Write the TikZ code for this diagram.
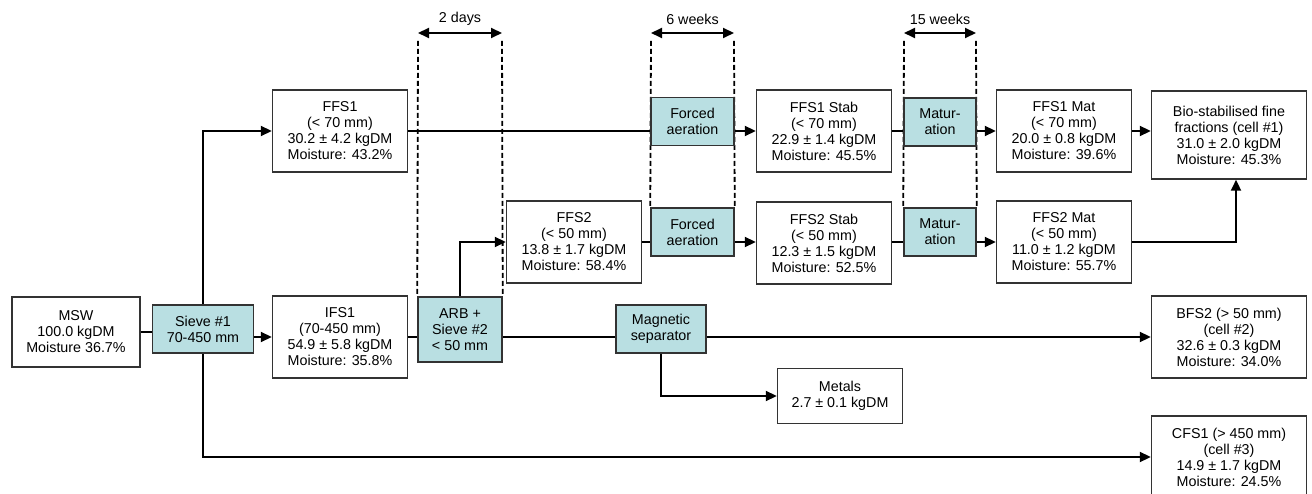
\documentclass[tikz,border=0pt]{standalone}
\usepackage{fontspec}
\setmainfont{Liberation Sans}
\usetikzlibrary{arrows.meta,backgrounds}

\definecolor{procteal}{HTML}{B9DFE2}
\definecolor{boxline}{HTML}{333333}

\begin{document}
\begin{tikzpicture}[
  x=1pt,
  y=-1pt,
  font=\fontsize{14.3}{16}\selectfont,
  stream/.style={draw=boxline,line width=1.5pt,fill=white,align=center,inner sep=0pt},
  sample/.style={stream,minimum width=135pt,minimum height=82pt},
  proc/.style={stream,fill=procteal,minimum height=48pt},
  flow/.style={draw=black,line width=2.2pt},
  feed/.style={flow,-{Triangle[length=11pt,width=10pt]}},
  period/.style={draw=black,line width=2pt,{Triangle[length=11pt,width=10pt]}-{Triangle[length=11pt,width=10pt]}},
  guide/.style={draw=black,line width=1.8pt,dash pattern=on 5pt off 3pt}
]
  \useasboundingbox (0,0) rectangle (1312,494);

  % Input and first sieve.
  \node[stream,minimum width=128pt,minimum height=70pt] (msw) at (76,332) {MSW\\100.0 kgDM\\Moisture 36.7\%};
  \node[proc,minimum width=101pt] (sieve1) at (203,329) {Sieve \#1\\70-450 mm};

  % Fractions after sieve #1.
  \node[sample] (ffs1) at (340,131) {FFS1\\(< 70 mm)\\30.2 ± 4.2 kgDM\\Moisture: 43.2\%};
  \node[sample] (ifs1) at (340,337) {IFS1\\(70-450 mm)\\54.9 ± 5.8 kgDM\\Moisture: 35.8\%};
  \node[proc,minimum width=84pt,minimum height=65pt] (arb) at (460,329.5) {ARB +\\Sieve \#2\\< 50 mm};
  \node[sample] (ffs2) at (574,242) {FFS2\\(< 50 mm)\\13.8 ± 1.7 kgDM\\Moisture: 58.4\%};

  % Composting steps.
  \node[proc,minimum width=83pt] (fa1) at (692.5,121.5) {Forced\\aeration};
  \node[proc,minimum width=83pt] (fa2) at (692.5,232) {Forced\\aeration};
  \node[sample] (stab1) at (824,131) {FFS1 Stab\\(< 70 mm)\\22.9 ± 1.4 kgDM\\Moisture: 45.5\%};
  \node[sample] (stab2) at (824,243) {FFS2 Stab\\(< 50 mm)\\12.3 ± 1.5 kgDM\\Moisture: 52.5\%};
  \node[proc,minimum width=72pt] (mat1) at (940,122) {Matur-\\ation};
  \node[proc,minimum width=72pt] (mat2) at (940,232) {Matur-\\ation};
  \node[sample] (fmat1) at (1064,131) {FFS1 Mat\\(< 70 mm)\\20.0 ± 0.8 kgDM\\Moisture: 39.6\%};
  \node[sample] (fmat2) at (1064,242) {FFS2 Mat\\(< 50 mm)\\11.0 ± 1.2 kgDM\\Moisture: 55.7\%};
  \node[stream,minimum width=155pt,minimum height=88pt] (bio) at (1229,135) {Bio-stabilised fine\\fractions (cell \#1)\\31.0 ± 2.0 kgDM\\Moisture: 45.3\%};

  % Coarse streams.
  \node[proc,minimum width=90pt] (mag) at (661,329) {Magnetic\\separator};
  \node[stream,minimum width=125pt,minimum height=55pt] (metals) at (840,396) {Metals\\2.7 ± 0.1 kgDM};
  \node[sample,minimum width=155pt] (bfs2) at (1229,337) {BFS2 (> 50 mm)\\(cell \#2)\\32.6 ± 0.3 kgDM\\Moisture: 34.0\%};
  \node[sample,minimum width=155pt] (cfs1) at (1229,457) {CFS1 (> 450 mm)\\(cell \#3)\\14.9 ± 1.7 kgDM\\Moisture: 24.5\%};

  % Durations.
  \coordinate (d2a) at (418,33);
  \coordinate (d2b) at (502,33);
  \coordinate (d6a) at (651,33);
  \coordinate (d6b) at (734,33);
  \coordinate (d15a) at (904,33);
  \coordinate (d15b) at (976,33);
  \node (days2) at (460,19) {2 days};
  \node (weeks6) at (692.5,19) {6 weeks};
  \node (weeks15) at (940,19) {15 weeks};
  \draw[period] (d2a) -- (d2b);
  \draw[period] (d6a) -- (d6b);
  \draw[period] (d15a) -- (d15b);

  \begin{scope}[on background layer]
    \draw[guide] ([yshift=-8pt]d2a) -- (arb.north west);
    \draw[guide] ([yshift=-8pt]d2b) -- (arb.north east);
    \draw[guide] ([yshift=-8pt]d6a) -- (fa2.north west);
    \draw[guide] ([yshift=-8pt]d6b) -- (fa2.north east);
    \draw[guide] ([yshift=-8pt]d15a) -- (mat2.north west);
    \draw[guide] ([yshift=-8pt]d15b) -- (mat2.north east);
  \end{scope}

  % Flows.
  \draw[flow] (msw.east) -- (sieve1.west |- msw.east);
  \draw[feed] (sieve1.east |- ifs1) -- (ifs1.west);
  \draw[feed] (sieve1.north) |- (ffs1.west);
  \draw[feed] (sieve1.south) |- (cfs1.west);
  \draw[flow] (ifs1.east) -- (arb.west |- ifs1.east);
  \draw[feed] (arb.north) |- (ffs2.west);
  \draw[flow] (arb.east |- ifs1) -- (mag.west |- ifs1);
  \draw[feed] (mag.east |- ifs1) -- (bfs2.west);
  \draw[feed] (mag.south) |- (metals.west);

  \draw[flow] (ffs1.east) -- (fa1.west |- ffs1.east);
  \draw[feed] (fa1.east |- ffs1) -- (stab1.west);
  \draw[flow] (stab1.east) -- (mat1.west |- stab1.east);
  \draw[feed] (mat1.east |- stab1) -- (fmat1.west);
  \draw[feed] (fmat1.east) -- (bio.west |- fmat1.east);

  \draw[flow] (ffs2.east) -- (fa2.west |- ffs2.east);
  \draw[feed] (fa2.east |- ffs2) -- (stab2.west |- ffs2);
  \draw[flow] (stab2.east |- ffs2) -- (mat2.west |- ffs2);
  \draw[feed] (mat2.east |- ffs2) -- (fmat2.west);
  \draw[feed] (fmat2.east) -| ([xshift=7pt]bio.south);
\end{tikzpicture}
\end{document}
